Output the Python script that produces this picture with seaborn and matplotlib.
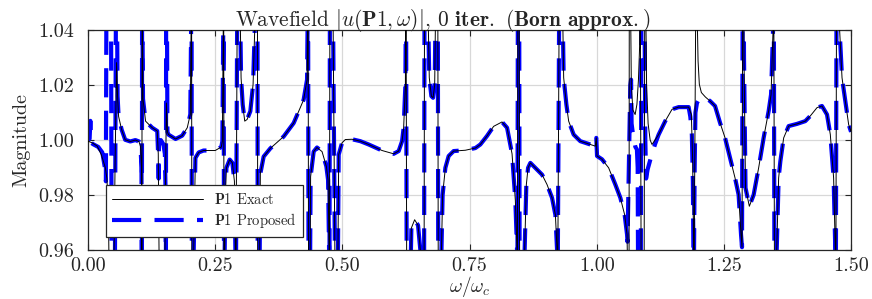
import numpy as np
import pandas as pd
import seaborn as sns
import matplotlib.pyplot as plt
from matplotlib.ticker import FormatStrFormatter

# exact wavefield magnitude (values beyond 0.96-1.04 are resonance peaks that leave the frame)
omega_exact = [
    0.000, 0.008, 0.018, 0.026, 0.034, 0.037, 0.040, 0.042, 0.050, 0.053,
    0.056, 0.058, 0.060, 0.066, 0.073, 0.083, 0.093, 0.100, 0.103, 0.105,
    0.1058, 0.1062, 0.108, 0.113, 0.126, 0.136, 0.138, 0.139, 0.1405, 0.1505,
    0.152, 0.1535, 0.154, 0.156, 0.158, 0.172, 0.185, 0.195, 0.201, 0.2035,
    0.2040, 0.2077, 0.211, 0.2175, 0.227, 0.250, 0.262, 0.264, 0.2666, 0.2672,
    0.270, 0.272, 0.2784, 0.2837, 0.2877, 0.2896, 0.2905, 0.2935, 0.298, 0.3008,
    0.304, 0.308, 0.3126, 0.319, 0.3244, 0.3276, 0.329, 0.333, 0.3335, 0.3365,
    0.3387, 0.3452, 0.3584, 0.3845, 0.4042, 0.4238, 0.4305, 0.4325, 0.4335, 0.436,
    0.4375, 0.4435, 0.450, 0.460, 0.4685, 0.4718, 0.4738, 0.4745, 0.4755, 0.481,
    0.4835, 0.486, 0.4905, 0.4927, 0.4993, 0.5058, 0.519, 0.5353, 0.5516, 0.578,
    0.6008, 0.6106, 0.6173, 0.6204, 0.6238, 0.6251, 0.6265, 0.6325, 0.6356, 0.642,
    0.6487, 0.6532, 0.6545, 0.6605, 0.6615, 0.667, 0.6708, 0.6749, 0.6782, 0.6814,
    0.684, 0.6875, 0.6885, 0.6925, 0.697, 0.7024, 0.7089, 0.7187, 0.7417, 0.7614,
    0.7712, 0.7843, 0.7973, 0.8138, 0.8237, 0.8335, 0.840, 0.8433, 0.844, 0.845,
    0.8475, 0.8485, 0.8555, 0.8616, 0.865, 0.8695, 0.8926, 0.9023, 0.9121, 0.9187,
    0.922, 0.923, 0.9265, 0.9318, 0.935, 0.9403, 0.9448, 0.9546, 0.9677, 0.9774,
    0.9907, 0.9971, 0.9991, 1.0006, 1.0104, 1.0234, 1.0366, 1.0464, 1.0549, 1.0596,
    1.0615, 1.0635, 1.064, 1.066, 1.068, 1.071, 1.0755, 1.079, 1.082, 1.0843,
    1.0855, 1.0875, 1.093, 1.0945, 1.0957, 1.098, 1.101, 1.105, 1.1087, 1.1217,
    1.1349, 1.148, 1.161, 1.1807, 1.186, 1.1886, 1.1905, 1.191, 1.195, 1.1959,
    1.1992, 1.2017, 1.2057, 1.2135, 1.2228, 1.2326, 1.2424, 1.2523, 1.2621, 1.2719,
    1.2789, 1.2837, 1.2856, 1.287, 1.2888, 1.2895, 1.2925, 1.300, 1.3085, 1.3183,
    1.3281, 1.338, 1.3427, 1.3466, 1.348, 1.3495, 1.3531, 1.3576, 1.361, 1.3675,
    1.3773, 1.3938, 1.410, 1.4199, 1.433, 1.4428, 1.4527, 1.4592, 1.4657, 1.469,
    1.470, 1.4715, 1.476, 1.4775, 1.4822, 1.4887, 1.4952, 1.500,
]
mag_exact = [
    0.9996, 0.9990, 0.9978, 0.9947, 0.9899, 0.9860, 0.9750, 0.940, 0.940, 0.990,
    1.0282, 1.0159, 1.0086, 1.0038, 1.0001, 0.9995, 1.0000, 0.9995, 0.9977, 0.990,
    0.940, 1.060, 1.015, 1.0069, 1.0045, 1.0033, 0.995, 0.970, 0.940, 0.940,
    0.980, 1.005, 1.0135, 1.003, 1.002, 1.0004, 1.0016, 1.0045, 1.0094, 1.060,
    0.940, 0.960, 0.9935, 0.9955, 0.9962, 0.9962, 0.9975, 0.9996, 1.060, 0.940,
    0.980, 0.9899, 0.9929, 0.9917, 0.985, 0.960, 0.940, 1.060, 1.060, 1.0227,
    1.0129, 1.0069, 1.0075, 1.0105, 1.0203, 1.040, 1.060, 1.060, 0.940, 0.940,
    0.9878, 0.994, 0.997, 1.0013, 1.0062, 1.0147, 1.022, 1.060, 0.940, 0.940,
    0.9867, 0.9958, 0.9973, 0.9958, 0.9904, 0.9855, 0.960, 0.940, 1.060, 1.060,
    1.000, 0.940, 0.940, 0.9947, 0.999, 1.0002, 1.0003, 0.9996, 0.9984, 0.9962,
    0.995, 0.996, 0.9996, 1.0045, 1.020, 1.060, 0.940, 0.940, 0.968, 0.971,
    0.969, 0.960, 0.940, 0.940, 1.060, 1.060, 1.0227, 1.016, 1.0154, 1.020,
    1.060, 1.060, 0.940, 0.940, 0.980, 0.9899, 0.9942, 0.996, 0.9963, 0.9971,
    0.9984, 1.0015, 1.005, 1.0066, 1.0045, 0.995, 0.978, 0.960, 0.940, 1.060,
    1.060, 0.940, 0.940, 0.9838, 0.9899, 0.9917, 0.9874, 0.9838, 0.979, 0.9728,
    0.960, 0.940, 1.060, 1.060, 1.0227, 1.013, 1.0069, 1.002, 0.9996, 0.999,
    0.9982, 0.9978, 1.0008, 0.9942, 0.993, 0.9899, 0.9838, 0.979, 0.9728, 0.9656,
    0.940, 0.940, 1.060, 1.060, 1.020, 1.011, 1.0093, 1.013, 1.022, 1.034,
    1.060, 0.940, 0.940, 1.060, 1.060, 1.020, 1.006, 1.000, 0.9984, 1.002,
    1.007, 1.0112, 1.012, 1.012, 1.0093, 0.9923, 0.960, 0.940, 1.060, 1.060,
    1.0288, 1.0203, 1.0173, 1.0157, 1.0142, 1.0124, 1.0063, 1.0008, 0.9935, 0.9862,
    0.9801, 0.9655, 0.961, 1.060, 1.060, 1.030, 0.9826, 0.9759, 0.9801, 0.9899,
    1.0008, 1.0106, 1.0166, 1.040, 1.060, 0.940, 0.955, 0.9862, 0.9923, 1.0008,
    1.0051, 1.0059, 1.0069, 1.0088, 1.0118, 1.0124, 1.0093, 1.002, 0.9862, 0.960,
    0.940, 1.060, 1.060, 1.040, 1.0227, 1.0142, 1.0057, 1.003,
]

# proposed (Born) solution: equal to exact except on these stretches
omega_prop_a = [0.000, 0.003, 0.0045, 0.006, 0.010, 0.020, 0.028, 0.033, 0.035, 0.0362,
                0.045, 0.0465, 0.0525, 0.055, 0.0565, 0.058, 0.060]
mag_prop_a = [1.000, 1.0005, 1.007, 0.999, 0.9985, 0.9975, 0.9955, 0.990, 0.985, 1.060,
              1.060, 0.940, 0.940, 1.060, 1.060, 1.016, 1.0086]
omega_prop_b = [0.136, 0.1383, 0.1388, 0.1393, 0.143, 0.148, 0.151, 0.1525, 0.153, 0.1535,
                0.1548, 0.156]
mag_prop_b = [1.0033, 0.992, 0.986, 0.998, 1.000, 0.9985, 0.995, 0.980, 0.940, 1.060,
              1.060, 1.003]
omega_prop_c = [1.0596, 1.0605, 1.066, 1.0675, 1.0685, 1.072, 1.076, 1.079, 1.0805, 1.0815,
                1.0865, 1.088, 1.0935, 1.0955, 1.097, 1.100, 1.107, 1.115, 1.1217]
mag_prop_c = [0.9656, 0.963, 1.020, 1.022, 1.006, 1.001, 0.9975, 0.9966, 0.990, 0.940,
              0.940, 1.060, 1.060, 1.000, 0.986, 0.9893, 0.994, 0.9987, 1.002]
omega_prop_d = [1.1807, 1.184, 1.187, 1.189, 1.190, 1.1905, 1.1925, 1.194, 1.197, 1.202,
                1.210, 1.218, 1.2228]
mag_prop_d = [1.012, 1.0085, 1.002, 0.985, 0.960, 0.940, 0.990, 1.010, 1.0135, 1.0153,
              1.0155, 1.0148, 1.0142]

w_ex = np.array(omega_exact)
m_ex = np.array(mag_exact)
patches = [(omega_prop_a, mag_prop_a), (omega_prop_b, mag_prop_b),
           (omega_prop_c, mag_prop_c), (omega_prop_d, mag_prop_d)]
keep = np.ones(len(w_ex), dtype=bool)
for pw, pm in patches:
    keep &= ~((w_ex >= pw[0]) & (w_ex <= pw[-1]))
w_pr = np.concatenate([w_ex[keep]] + [np.array(pw) for pw, _ in patches])
m_pr = np.concatenate([m_ex[keep]] + [np.array(pm) for _, pm in patches])
order = np.argsort(w_pr)

df_exact = pd.DataFrame({'omega': w_ex, 'mag': m_ex})
df_prop = pd.DataFrame({'omega': w_pr[order], 'mag': m_pr[order]})

sns.set_style('ticks')
plt.rcParams['font.family'] = 'serif'
plt.rcParams['font.serif'] = ['cmr10']
plt.rcParams['mathtext.fontset'] = 'cm'
plt.rcParams['axes.formatter.use_mathtext'] = True
plt.rcParams['axes.unicode_minus'] = False

fig, ax = plt.subplots(figsize=(8.72, 2.99), dpi=100)
fig.subplots_adjust(left=0.101, right=0.976, top=0.899, bottom=0.164)

sns.lineplot(data=df_exact, x='omega', y='mag', ax=ax, color='black', linewidth=0.7,
             estimator=None, sort=False, label=r'$\mathbf{P1}$ Exact', zorder=3)
sns.lineplot(data=df_prop, x='omega', y='mag', ax=ax, color=(0, 0, 1), linewidth=3,
             linestyle=(0, (7, 3.2)), estimator=None, sort=False,
             label=r'$\mathbf{P1}$ Proposed', zorder=2)

ax.set_xlim(0, 1.5)
ax.set_ylim(0.96, 1.04)
ax.set_xticks(np.arange(0, 1.51, 0.25))
ax.set_yticks(np.arange(0.96, 1.0401, 0.02))
ax.xaxis.set_major_formatter(FormatStrFormatter('%.2f'))
ax.yaxis.set_major_formatter(FormatStrFormatter('%.2f'))
ax.grid(True, color='#d8d8d8', linewidth=0.9, zorder=0)
ax.set_axisbelow(True)
ax.tick_params(direction='in', top=True, right=True, length=4, width=0.8,
               labelsize=14.5, colors='#262626')
ax.tick_params(axis='x', pad=5)
ax.tick_params(axis='y', pad=10)
for sp in ax.spines.values():
    sp.set_visible(True)
    sp.set_linewidth(0.9)
    sp.set_color('#262626')

ax.set_xlabel(r'$\omega/\omega_c$', fontsize=14, labelpad=-0.5)
ax.set_ylabel('Magnitude', fontsize=14.5, labelpad=6)
ax.set_title(r'Wavefield $|u(\mathbf{P1},\omega)|$, $\mathbf{0}$ $\mathbf{iter.}$ '
             r'$\mathbf{(Born}$ $\mathbf{approx.)}$',
             fontsize=15.4, pad=3, x=0.465)

leg = ax.legend(loc='lower left', bbox_to_anchor=(0.023, 0.059), borderaxespad=0,
                fontsize=10.5, handlelength=6.2, fancybox=False, framealpha=1,
                edgecolor='#262626', borderpad=0.45, labelspacing=0.3)
leg.get_frame().set_linewidth(0.9)

fig.savefig('out.png', dpi=100)
